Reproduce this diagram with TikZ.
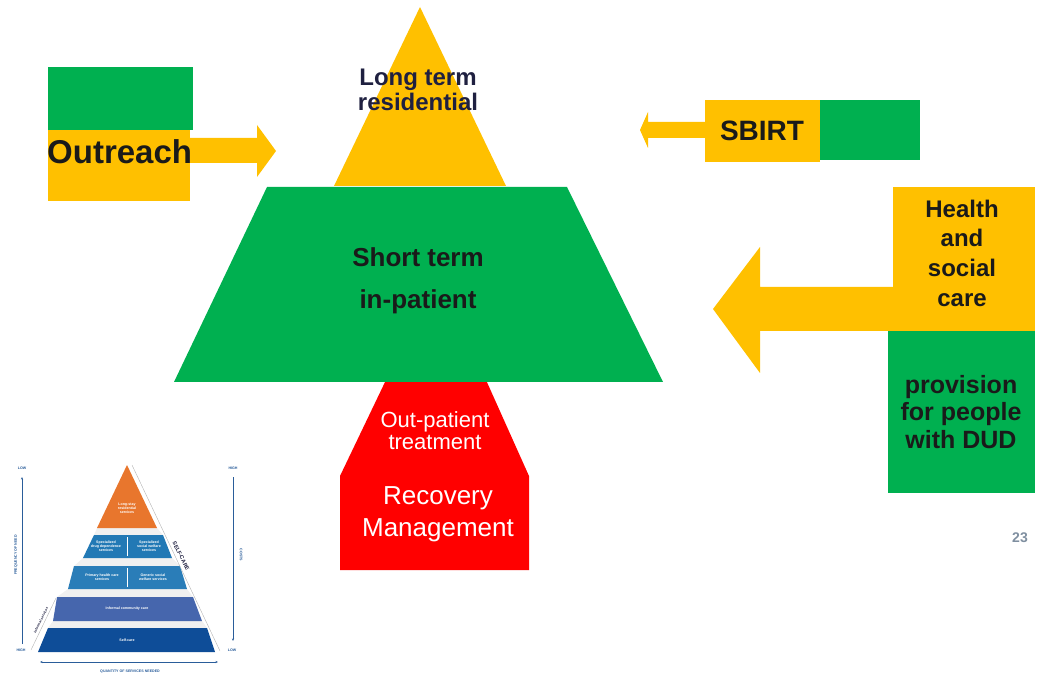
\documentclass[tikz,border=0pt]{standalone}
\usepackage{fontspec}
\setmainfont{Liberation Sans}
\usetikzlibrary{arrows.meta}
\definecolor{ylw}{HTML}{FFC000}
\definecolor{grn}{HTML}{00B050}
\definecolor{rd}{HTML}{FF0000}
\definecolor{ink}{HTML}{1A1A1A}
\definecolor{navy}{HTML}{1F2040}
\definecolor{orng}{HTML}{E8762D}
\definecolor{tierA}{HTML}{2279B5}
\definecolor{tierB}{HTML}{2A7DB8}
\definecolor{tierC}{HTML}{4666AD}
\definecolor{tierD}{HTML}{0E4D98}
\definecolor{axis}{HTML}{2A5D9A}
\definecolor{pgnum}{HTML}{7F8FA0}
\tikzset{
  bigtxt/.style={text=ink, align=center, font=\bfseries, inner sep=0pt},
  wtxt/.style={text=white, align=center, inner sep=0pt},
  tiny/.style={text=white, align=center, inner sep=0pt, font=\fontsize{3.6}{4.2}\selectfont\bfseries},
  axlabel/.style={text=axis, inner sep=0pt, font=\fontsize{3.6}{4.2}\selectfont\bfseries},
  axarrow/.style={draw=axis, line width=0.6pt},
}
\begin{document}
\begin{tikzpicture}[x=1pt,y=-1pt]
\useasboundingbox (0,0) rectangle (1045,676);

% red house (behind the trapezoid)
\fill[rd] (340,570) -- (340,476) -- (386,380) -- (486,380) -- (529,476) -- (529,570) -- cycle;
% yellow triangle
\fill[ylw] (420,7) -- (506,186) -- (334,186) -- cycle;
% green trapezoid
\fill[grn] (267,187) -- (567,187) -- (663,382) -- (174,382) -- cycle;

% Outreach
\fill[grn] (48,67) rectangle (193,130);
\fill[ylw] (48,130) rectangle (190,201);
\fill[ylw] (189,138) -- (257,138) -- (257,125) -- (276,151) -- (257,177) -- (257,163) -- (189,163) -- cycle;

% SBIRT
\fill[ylw] (705,100) rectangle (820,162);
\fill[grn] (820,100) rectangle (920,160);
\fill[ylw] (706,122) -- (648,122) -- (648,112) -- (640,130) -- (648,148) -- (648,138) -- (706,138) -- cycle;

% Health and social care
\fill[ylw] (893,187) rectangle (1035,331);
\fill[grn] (888,331) rectangle (1035,493);
\fill[ylw] (894,287) -- (760,287) -- (760,247) -- (713,309) -- (760,373) -- (760,331) -- (894,331) -- cycle;

% texts
\node[bigtxt, text=navy, font=\bfseries\fontsize{24}{25}\selectfont] (longterm) at (418,90) {Long term\\residential};
\node[bigtxt, font=\bfseries\fontsize{26}{42}\selectfont] (shortterm) at (418,281) {Short term\\in-patient};
\node[wtxt, font=\fontsize{22}{22}\selectfont] (outpatient) at (435,431) {Out-patient\\treatment};
\node[wtxt, font=\fontsize{26}{32}\selectfont] (recovery) at (438,514) {Recovery\\Management};
\node[bigtxt, anchor=west, font=\bfseries\fontsize{33}{35}\selectfont] (outreach) at (47,152) {Outreach};
\node[bigtxt, font=\bfseries\fontsize{28}{30}\selectfont] (sbirt) at (762,131) {SBIRT};
\node[bigtxt, font=\bfseries\fontsize{24}{29.7}\selectfont] (health) at (962,253) {Health\\and\\social\\care};
\node[bigtxt, font=\bfseries\fontsize{25}{27.5}\selectfont] (provision) at (961,412) {provision\\for people\\with DUD};
\node[text=pgnum, inner sep=0pt, font=\bfseries\fontsize{14}{14}\selectfont] (pagenum) at (1020,538) {23};

% ---- small WHO pyramid ----
\fill[gray!12] (97,528) -- (157,528) -- (163,535) -- (94,535) -- cycle;
\fill[gray!12] (83,558) -- (172,558) -- (180,566) -- (74,566) -- cycle;
\fill[gray!12] (68,589) -- (187,589) -- (193,597) -- (57,597) -- cycle;
\fill[gray!12] (53,621) -- (202,621) -- (207,628) -- (48,628) -- cycle;
\fill[orng] (127,465) -- (157,528) -- (97,528) -- cycle;
\fill[tierA] (94,535) -- (163,535) -- (172,558) -- (83,558) -- cycle;
\fill[tierB] (74,566) -- (180,566) -- (187,589) -- (68,589) -- cycle;
\fill[tierC] (57,597) -- (193,597) -- (202,621) -- (53,621) -- cycle;
\fill[tierD] (48,628) -- (207,628) -- (215,652) -- (38,652) -- cycle;
\draw[white, line width=0.3pt] (127,537) -- (127,556);
\draw[white, line width=0.3pt] (127,568) -- (127,587);

\node[tiny] (longstay) at (127,508) {Long-stay\\residential\\services};
\node[tiny] (specdrug) at (106,546) {Specialized\\drug dependence\\services};
\node[tiny] (specsoc) at (149,546) {Specialized\\social welfare\\services};
\node[tiny] (primary) at (102,577) {Primary health care\\services};
\node[tiny] (generic) at (153,577) {Generic social\\welfare services};
\node[tiny] (informal) at (127,609) {Informal community care};
\node[tiny] (selfcare) at (127,640) {Self-care};

% side lines
\draw[gray!60, line width=0.4pt] (132,465) -- (220,651);
\draw[gray!60, line width=0.4pt] (56,598) -- (31,650);
\node[text=navy, inner sep=0pt, rotate=-63.5, font=\fontsize{5.5}{6}\selectfont\bfseries] (selfcarelbl) at (181,556) {SELF-CARE};
\node[text=navy, inner sep=0pt, rotate=63.5, font=\fontsize{3.4}{4}\selectfont\bfseries] (infserv) at (41,620) {Informal services};

% axes
\coordinate (ltop) at (22,477);
\coordinate (lbot) at (22,644);
\coordinate (rtop) at (233,477);
\coordinate (rbot) at (233,641);
\coordinate (bl) at (40,662);
\coordinate (br) at (218,662);
\draw[axarrow, -{Stealth[length=2.5pt,width=2pt]}] (lbot) -- (ltop);
\draw[axarrow, -{Stealth[length=2.5pt,width=2pt]}] (rtop) -- (rbot);
\draw[axarrow, {Stealth[length=2.5pt,width=2pt]}-{Stealth[length=2.5pt,width=2pt]}] (bl) -- (br);
\node[axlabel] (lowl) at (22,468) {LOW};
\node[axlabel] (highr) at (233,468) {HIGH};
\node[axlabel] (highl) at (21,650) {HIGH};
\node[axlabel] (lowr) at (232,650) {LOW};
\node[axlabel, rotate=90] (freq) at (16,555) {FREQUENCY OF NEED};
\node[axlabel, rotate=-90] (costs) at (241,555) {COSTS};
\node[axlabel] (quant) at (130,672) {QUANTITY OF SERVICES NEEDED};
\end{tikzpicture}
\end{document}
